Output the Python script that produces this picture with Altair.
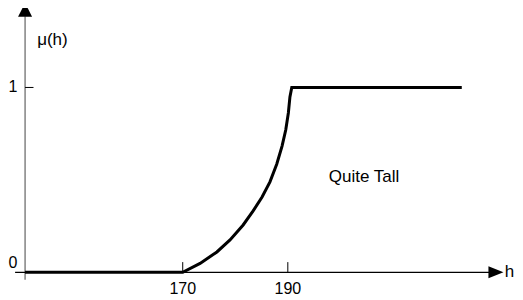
import altair as alt
import pandas as pd

# membership function "Quite Tall"
curve_h = [140, 170, 173.3, 176.5, 179.0, 181.5, 183.4, 185.1, 186.6, 187.9, 188.9, 189.6, 190.1, 190.4, 190.75, 223.1]
curve_mu = [0, 0, 0.048, 0.110, 0.175, 0.256, 0.332, 0.407, 0.489, 0.586, 0.683, 0.770, 0.862, 0.949, 1, 1]

x_ticks = [170, 190]
x_tick_labels = ["170", "190"]
y_labels = ["0", "1"]
y_label_vals = [0.05, 1]

XS = alt.Scale(domain=[136.75, 233.23], nice=False, zero=False)
YS = alt.Scale(domain=[-0.15, 1.43], nice=False, zero=False)
FONT = "Liberation Sans"


def X(f="h"):
    return alt.X(f"{f}:Q", scale=XS, axis=None)


def Y(f="mu"):
    return alt.Y(f"{f}:Q", scale=YS, axis=None)


curve = alt.Chart(pd.DataFrame({"h": curve_h, "mu": curve_mu})).mark_line(
    color="black", strokeWidth=3, strokeJoin="miter", strokeCap="butt"
).encode(x=X(), y=Y(), order="i:Q").transform_window(i="row_number()")

# axes
xaxis = alt.Chart(pd.DataFrame({"h": [138.1], "h2": [228.3], "mu": [0]})).mark_rule(
    color="black", strokeWidth=1.3
).encode(x=X(), x2="h2:Q", y=Y())
yaxis = alt.Chart(pd.DataFrame({"h": [140], "mu": [-0.04], "mu2": [1.385]})).mark_rule(
    color="#7a7a7a", strokeWidth=1.4
).encode(x=X(), y=Y(), y2="mu2:Q")

arrow_up = alt.Chart(pd.DataFrame({"h": [140], "mu": [1.42]})).mark_point(
    filled=True, shape="M0,-1L-1,1L1,1Z", size=196, color="black", opacity=1, strokeWidth=0
).encode(x=X(), y=Y())
arrow_right = alt.Chart(pd.DataFrame({"h": [229.6], "mu": [0]})).mark_point(
    filled=True, shape="M1,0L-1,-0.8L-1,0.8Z", size=225, color="black", opacity=1, strokeWidth=0
).encode(x=X(), y=Y())

xticks = alt.Chart(pd.DataFrame({"h": x_ticks, "mu": [0] * 2, "mu2": [0.055] * 2})).mark_rule(
    color="black", strokeWidth=1
).encode(x=X(), y=Y(), y2="mu2:Q")
ytick = alt.Chart(pd.DataFrame({"h": [140], "h2": [141.6], "mu": [1]})).mark_rule(
    color="black", strokeWidth=1
).encode(x=X(), x2="h2:Q", y=Y())

xlab = alt.Chart(pd.DataFrame({"h": x_ticks, "mu": [-0.09] * 2, "t": x_tick_labels})).mark_text(
    font=FONT, fontSize=16, baseline="middle", align="center", color="black"
).encode(x=X(), y=Y(), text="t:N")
ylab = alt.Chart(pd.DataFrame({"h": [137.7] * 2, "mu": y_label_vals, "t": y_labels})).mark_text(
    font=FONT, fontSize=16, baseline="middle", align="center", color="black"
).encode(x=X(), y=Y(), text="t:N")

ytitle = alt.Chart(pd.DataFrame({"h": [142.3], "mu": [1.255], "t": ["μ(h)"]})).mark_text(
    font=FONT, fontSize=17, baseline="middle", color="black", align="left"
).encode(x=X(), y=Y(), text="t:N")
xtitle = alt.Chart(pd.DataFrame({"h": [233.1], "mu": [0.0], "t": ["h"]})).mark_text(
    font=FONT, fontSize=17, baseline="middle", color="black", align="right"
).encode(x=X(), y=Y(), text="t:N")
label = alt.Chart(pd.DataFrame({"h": [204.5], "mu": [0.516], "t": ["Quite Tall"]})).mark_text(
    font=FONT, fontSize=17, baseline="middle", align="center", color="black"
).encode(x=X(), y=Y(), text="t:N")

chart = alt.layer(
    yaxis, xaxis, xticks, ytick, curve, arrow_up, arrow_right, xlab, ylab, ytitle, xtitle, label
).properties(
    width=507, height=292, padding=0, autosize=alt.AutoSizeParams(type="none")
).configure_view(stroke=None)

chart.save("out.html", embed_options={"renderer": "svg", "actions": False})
